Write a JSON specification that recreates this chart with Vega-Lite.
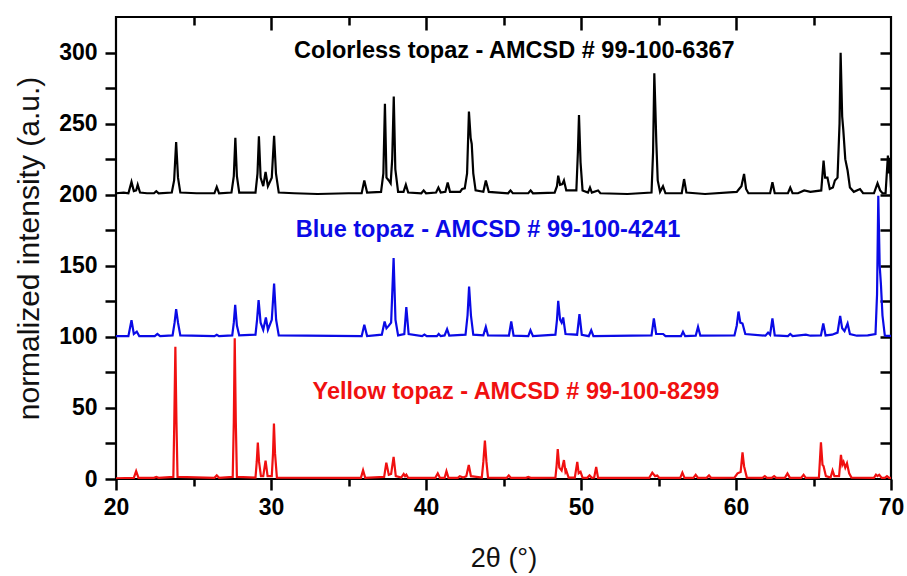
{
  "$schema": "https://vega.github.io/schema/vega-lite/v6.json",
  "width": 775,
  "height": 462,
  "autosize": "none",
  "padding": {"left": 116, "top": 17, "right": 16, "bottom": 97},
  "background": "white",
  "config": {
    "view": {"stroke": "black", "strokeWidth": 2.2},
    "font": "Liberation Sans",
    "axis": {"grid": false, "domain": false, "labelFlush": false, "labelOverlap": false, "tickColor": "black", "tickWidth": 2.5, "labelFont": "Liberation Sans", "labelFontWeight": "bold", "labelFontSize": 23, "labelColor": "black", "titleFont": "Liberation Sans", "titleFontWeight": "normal", "titleColor": "#111"}
  },
  "datasets": {
    "xrd": [
      {"s":"colorless","x":20.0,"y":201},{"s":"colorless","x":20.5,"y":201.5},{"s":"colorless","x":20.8,"y":201},{"s":"colorless","x":21.0,"y":209},{"s":"colorless","x":21.15,"y":202.5},{"s":"colorless","x":21.3,"y":203},{"s":"colorless","x":21.4,"y":207},{"s":"colorless","x":21.55,"y":201.5},{"s":"colorless","x":22.0,"y":201},{"s":"colorless","x":22.45,"y":201},{"s":"colorless","x":22.6,"y":202.5},{"s":"colorless","x":22.75,"y":201},{"s":"colorless","x":23.6,"y":201.5},{"s":"colorless","x":23.75,"y":210},{"s":"colorless","x":23.88,"y":237},{"s":"colorless","x":24.0,"y":212},{"s":"colorless","x":24.15,"y":201.5},{"s":"colorless","x":25.2,"y":201},{"s":"colorless","x":26.35,"y":201},{"s":"colorless","x":26.5,"y":205.5},{"s":"colorless","x":26.65,"y":201},{"s":"colorless","x":27.45,"y":201.5},{"s":"colorless","x":27.6,"y":213},{"s":"colorless","x":27.7,"y":240},{"s":"colorless","x":27.8,"y":213},{"s":"colorless","x":27.95,"y":201.5},{"s":"colorless","x":29.0,"y":201.5},{"s":"colorless","x":29.13,"y":215},{"s":"colorless","x":29.22,"y":241},{"s":"colorless","x":29.33,"y":212},{"s":"colorless","x":29.5,"y":206},{"s":"colorless","x":29.65,"y":216},{"s":"colorless","x":29.8,"y":206},{"s":"colorless","x":30.05,"y":212},{"s":"colorless","x":30.2,"y":241.5},{"s":"colorless","x":30.32,"y":215},{"s":"colorless","x":30.5,"y":201.5},{"s":"colorless","x":31.5,"y":201},{"s":"colorless","x":33.0,"y":200.5},{"s":"colorless","x":35.0,"y":201},{"s":"colorless","x":35.85,"y":201},{"s":"colorless","x":36.02,"y":210},{"s":"colorless","x":36.2,"y":201.5},{"s":"colorless","x":37.1,"y":202},{"s":"colorless","x":37.25,"y":215},{"s":"colorless","x":37.35,"y":264},{"s":"colorless","x":37.45,"y":212},{"s":"colorless","x":37.6,"y":210},{"s":"colorless","x":37.72,"y":208},{"s":"colorless","x":37.82,"y":225},{"s":"colorless","x":37.92,"y":269},{"s":"colorless","x":38.02,"y":218},{"s":"colorless","x":38.2,"y":202},{"s":"colorless","x":38.55,"y":202},{"s":"colorless","x":38.7,"y":207},{"s":"colorless","x":38.85,"y":201.5},{"s":"colorless","x":39.7,"y":201},{"s":"colorless","x":39.85,"y":203},{"s":"colorless","x":40.0,"y":201},{"s":"colorless","x":40.65,"y":201.5},{"s":"colorless","x":40.8,"y":205},{"s":"colorless","x":40.95,"y":201.5},{"s":"colorless","x":41.25,"y":202},{"s":"colorless","x":41.4,"y":208.5},{"s":"colorless","x":41.55,"y":202},{"s":"colorless","x":42.2,"y":202},{"s":"colorless","x":42.33,"y":204},{"s":"colorless","x":42.5,"y":204.5},{"s":"colorless","x":42.65,"y":215},{"s":"colorless","x":42.77,"y":258.5},{"s":"colorless","x":42.88,"y":240},{"s":"colorless","x":42.95,"y":235.7},{"s":"colorless","x":43.05,"y":215},{"s":"colorless","x":43.2,"y":203},{"s":"colorless","x":43.7,"y":202},{"s":"colorless","x":43.86,"y":210},{"s":"colorless","x":44.05,"y":202},{"s":"colorless","x":45.3,"y":201},{"s":"colorless","x":45.45,"y":203},{"s":"colorless","x":45.6,"y":201},{"s":"colorless","x":46.6,"y":201},{"s":"colorless","x":46.75,"y":203},{"s":"colorless","x":46.9,"y":201},{"s":"colorless","x":48.3,"y":201.5},{"s":"colorless","x":48.45,"y":206},{"s":"colorless","x":48.53,"y":213.4},{"s":"colorless","x":48.65,"y":207},{"s":"colorless","x":48.8,"y":207.5},{"s":"colorless","x":48.9,"y":210},{"s":"colorless","x":49.05,"y":203},{"s":"colorless","x":49.7,"y":203},{"s":"colorless","x":49.8,"y":230},{"s":"colorless","x":49.87,"y":256},{"s":"colorless","x":49.97,"y":222.8},{"s":"colorless","x":50.1,"y":203},{"s":"colorless","x":50.45,"y":201.5},{"s":"colorless","x":50.58,"y":205},{"s":"colorless","x":50.7,"y":201.5},{"s":"colorless","x":51.1,"y":203},{"s":"colorless","x":51.25,"y":201},{"s":"colorless","x":53.0,"y":200.5},{"s":"colorless","x":54.55,"y":201.5},{"s":"colorless","x":54.65,"y":230},{"s":"colorless","x":54.73,"y":285.4},{"s":"colorless","x":54.8,"y":260},{"s":"colorless","x":54.86,"y":236.8},{"s":"colorless","x":54.95,"y":210},{"s":"colorless","x":55.1,"y":202},{"s":"colorless","x":55.29,"y":206},{"s":"colorless","x":55.45,"y":201},{"s":"colorless","x":56.5,"y":201},{"s":"colorless","x":56.65,"y":211},{"s":"colorless","x":56.8,"y":201.5},{"s":"colorless","x":58.0,"y":200.5},{"s":"colorless","x":60.05,"y":202},{"s":"colorless","x":60.2,"y":204},{"s":"colorless","x":60.35,"y":206},{"s":"colorless","x":60.52,"y":214.6},{"s":"colorless","x":60.65,"y":204},{"s":"colorless","x":60.8,"y":201},{"s":"colorless","x":62.2,"y":201},{"s":"colorless","x":62.35,"y":208.7},{"s":"colorless","x":62.5,"y":201},{"s":"colorless","x":63.35,"y":201},{"s":"colorless","x":63.5,"y":205},{"s":"colorless","x":63.65,"y":201},{"s":"colorless","x":64.0,"y":201},{"s":"colorless","x":64.4,"y":203},{"s":"colorless","x":64.8,"y":202},{"s":"colorless","x":65.5,"y":203},{"s":"colorless","x":65.65,"y":224},{"s":"colorless","x":65.75,"y":212},{"s":"colorless","x":65.9,"y":212},{"s":"colorless","x":66.05,"y":204},{"s":"colorless","x":66.25,"y":205},{"s":"colorless","x":66.38,"y":210},{"s":"colorless","x":66.55,"y":212},{"s":"colorless","x":66.68,"y":250},{"s":"colorless","x":66.75,"y":299.8},{"s":"colorless","x":66.85,"y":255},{"s":"colorless","x":66.92,"y":246},{"s":"colorless","x":67.05,"y":225},{"s":"colorless","x":67.2,"y":217},{"s":"colorless","x":67.35,"y":205},{"s":"colorless","x":67.6,"y":202},{"s":"colorless","x":68.0,"y":204},{"s":"colorless","x":68.2,"y":201},{"s":"colorless","x":68.9,"y":201},{"s":"colorless","x":69.13,"y":208},{"s":"colorless","x":69.3,"y":203},{"s":"colorless","x":69.45,"y":201},{"s":"colorless","x":69.65,"y":201},{"s":"colorless","x":69.8,"y":227.5},{"s":"colorless","x":69.85,"y":215},{"s":"colorless","x":69.9,"y":226},{"s":"colorless","x":70.0,"y":205},

      {"s":"blue","x":20.0,"y":100.5},{"s":"blue","x":20.8,"y":100.5},{"s":"blue","x":21.0,"y":111.7},{"s":"blue","x":21.15,"y":102},{"s":"blue","x":21.34,"y":103.7},{"s":"blue","x":21.5,"y":100.5},{"s":"blue","x":22.5,"y":100.5},{"s":"blue","x":22.67,"y":102},{"s":"blue","x":22.85,"y":100.5},{"s":"blue","x":23.65,"y":101},{"s":"blue","x":23.78,"y":110},{"s":"blue","x":23.88,"y":119.5},{"s":"blue","x":24.0,"y":110},{"s":"blue","x":24.15,"y":101},{"s":"blue","x":26.35,"y":100.5},{"s":"blue","x":26.5,"y":101.5},{"s":"blue","x":26.65,"y":100.5},{"s":"blue","x":27.5,"y":101},{"s":"blue","x":27.6,"y":110},{"s":"blue","x":27.69,"y":122.5},{"s":"blue","x":27.8,"y":108},{"s":"blue","x":27.95,"y":101},{"s":"blue","x":29.0,"y":101.5},{"s":"blue","x":29.1,"y":112},{"s":"blue","x":29.2,"y":125.8},{"s":"blue","x":29.33,"y":110},{"s":"blue","x":29.5,"y":105},{"s":"blue","x":29.67,"y":113.6},{"s":"blue","x":29.8,"y":105},{"s":"blue","x":30.05,"y":112},{"s":"blue","x":30.2,"y":137.5},{"s":"blue","x":30.33,"y":112},{"s":"blue","x":30.5,"y":101},{"s":"blue","x":35.85,"y":100.5},{"s":"blue","x":36.02,"y":108.5},{"s":"blue","x":36.2,"y":100.5},{"s":"blue","x":37.15,"y":101.5},{"s":"blue","x":37.33,"y":110.8},{"s":"blue","x":37.45,"y":106},{"s":"blue","x":37.59,"y":107.7},{"s":"blue","x":37.75,"y":110},{"s":"blue","x":37.91,"y":155.4},{"s":"blue","x":38.03,"y":112},{"s":"blue","x":38.2,"y":101},{"s":"blue","x":38.6,"y":102},{"s":"blue","x":38.73,"y":121},{"s":"blue","x":38.88,"y":102},{"s":"blue","x":39.75,"y":100.5},{"s":"blue","x":39.9,"y":101.6},{"s":"blue","x":40.05,"y":100.5},{"s":"blue","x":40.7,"y":100.5},{"s":"blue","x":40.82,"y":102},{"s":"blue","x":40.95,"y":100.5},{"s":"blue","x":41.2,"y":101},{"s":"blue","x":41.36,"y":105.4},{"s":"blue","x":41.5,"y":100.8},{"s":"blue","x":42.55,"y":101.5},{"s":"blue","x":42.68,"y":115},{"s":"blue","x":42.78,"y":135.4},{"s":"blue","x":42.9,"y":115},{"s":"blue","x":43.05,"y":101.5},{"s":"blue","x":43.7,"y":101},{"s":"blue","x":43.86,"y":107},{"s":"blue","x":44.0,"y":101},{"s":"blue","x":45.35,"y":100.8},{"s":"blue","x":45.5,"y":110.8},{"s":"blue","x":45.65,"y":100.8},{"s":"blue","x":46.6,"y":100.5},{"s":"blue","x":46.74,"y":104.7},{"s":"blue","x":46.9,"y":100.5},{"s":"blue","x":48.35,"y":101.5},{"s":"blue","x":48.45,"y":112},{"s":"blue","x":48.53,"y":125.4},{"s":"blue","x":48.65,"y":112},{"s":"blue","x":48.75,"y":110},{"s":"blue","x":48.85,"y":113.6},{"s":"blue","x":49.0,"y":102},{"s":"blue","x":49.75,"y":101.5},{"s":"blue","x":49.9,"y":116},{"s":"blue","x":50.05,"y":101.5},{"s":"blue","x":50.5,"y":100.5},{"s":"blue","x":50.66,"y":104.7},{"s":"blue","x":50.8,"y":100.5},{"s":"blue","x":54.55,"y":101},{"s":"blue","x":54.7,"y":113},{"s":"blue","x":54.85,"y":102},{"s":"blue","x":55.3,"y":102},{"s":"blue","x":55.45,"y":100.5},{"s":"blue","x":56.45,"y":100.5},{"s":"blue","x":56.58,"y":103.5},{"s":"blue","x":56.72,"y":100.5},{"s":"blue","x":57.4,"y":100.8},{"s":"blue","x":57.55,"y":107},{"s":"blue","x":57.7,"y":100.8},{"s":"blue","x":59.9,"y":101},{"s":"blue","x":60.05,"y":108},{"s":"blue","x":60.16,"y":117.8},{"s":"blue","x":60.28,"y":110},{"s":"blue","x":60.42,"y":109.4},{"s":"blue","x":60.6,"y":102},{"s":"blue","x":61.9,"y":100.8},{"s":"blue","x":62.07,"y":103},{"s":"blue","x":62.2,"y":101.5},{"s":"blue","x":62.35,"y":113},{"s":"blue","x":62.5,"y":101},{"s":"blue","x":63.35,"y":100.5},{"s":"blue","x":63.5,"y":102},{"s":"blue","x":63.65,"y":100.5},{"s":"blue","x":64.51,"y":101.5},{"s":"blue","x":64.8,"y":100.8},{"s":"blue","x":65.48,"y":101},{"s":"blue","x":65.63,"y":109.4},{"s":"blue","x":65.78,"y":101},{"s":"blue","x":66.2,"y":101.5},{"s":"blue","x":66.55,"y":103},{"s":"blue","x":66.72,"y":114.8},{"s":"blue","x":66.85,"y":106},{"s":"blue","x":67.0,"y":104},{"s":"blue","x":67.2,"y":109.4},{"s":"blue","x":67.35,"y":102},{"s":"blue","x":67.8,"y":100.8},{"s":"blue","x":68.5,"y":101},{"s":"blue","x":69.0,"y":102},{"s":"blue","x":69.1,"y":130},{"s":"blue","x":69.18,"y":199.3},{"s":"blue","x":69.27,"y":150},{"s":"blue","x":69.35,"y":137},{"s":"blue","x":69.45,"y":115},{"s":"blue","x":69.6,"y":101},{"s":"blue","x":69.68,"y":100.7},{"s":"blue","x":70.0,"y":100.7},

      {"s":"yellow","x":20.0,"y":0.5},{"s":"yellow","x":21.15,"y":0.8},{"s":"yellow","x":21.3,"y":5.6},{"s":"yellow","x":21.45,"y":0.8},{"s":"yellow","x":22.45,"y":0.8},{"s":"yellow","x":22.6,"y":1.5},{"s":"yellow","x":22.75,"y":0.8},{"s":"yellow","x":23.7,"y":1.5},{"s":"yellow","x":23.76,"y":40},{"s":"yellow","x":23.83,"y":93},{"s":"yellow","x":23.9,"y":40},{"s":"yellow","x":23.97,"y":1.5},{"s":"yellow","x":26.35,"y":0.8},{"s":"yellow","x":26.5,"y":2.5},{"s":"yellow","x":26.65,"y":0.8},{"s":"yellow","x":27.53,"y":1.5},{"s":"yellow","x":27.6,"y":40},{"s":"yellow","x":27.66,"y":99},{"s":"yellow","x":27.73,"y":40},{"s":"yellow","x":27.8,"y":1.5},{"s":"yellow","x":29.0,"y":1},{"s":"yellow","x":29.08,"y":12},{"s":"yellow","x":29.15,"y":25.6},{"s":"yellow","x":29.23,"y":12},{"s":"yellow","x":29.35,"y":2},{"s":"yellow","x":29.5,"y":2},{"s":"yellow","x":29.65,"y":12.9},{"s":"yellow","x":29.78,"y":2},{"s":"yellow","x":30.05,"y":2},{"s":"yellow","x":30.13,"y":18},{"s":"yellow","x":30.19,"y":39},{"s":"yellow","x":30.26,"y":18},{"s":"yellow","x":30.38,"y":1},{"s":"yellow","x":35.8,"y":0.8},{"s":"yellow","x":35.94,"y":6.1},{"s":"yellow","x":36.08,"y":0.8},{"s":"yellow","x":37.3,"y":1.5},{"s":"yellow","x":37.44,"y":11.5},{"s":"yellow","x":37.6,"y":3},{"s":"yellow","x":37.75,"y":3.5},{"s":"yellow","x":37.91,"y":15.5},{"s":"yellow","x":38.05,"y":2},{"s":"yellow","x":38.4,"y":1},{"s":"yellow","x":38.56,"y":3.5},{"s":"yellow","x":38.65,"y":2},{"s":"yellow","x":38.73,"y":3},{"s":"yellow","x":38.85,"y":0.8},{"s":"yellow","x":40.6,"y":0.8},{"s":"yellow","x":40.76,"y":4},{"s":"yellow","x":40.9,"y":0.8},{"s":"yellow","x":41.2,"y":0.8},{"s":"yellow","x":41.32,"y":5.5},{"s":"yellow","x":41.45,"y":0.8},{"s":"yellow","x":42.05,"y":0.8},{"s":"yellow","x":42.18,"y":2},{"s":"yellow","x":42.4,"y":1},{"s":"yellow","x":42.6,"y":2},{"s":"yellow","x":42.76,"y":9.8},{"s":"yellow","x":42.9,"y":2},{"s":"yellow","x":43.6,"y":1},{"s":"yellow","x":43.7,"y":12},{"s":"yellow","x":43.8,"y":27},{"s":"yellow","x":43.9,"y":12},{"s":"yellow","x":44.0,"y":1},{"s":"yellow","x":45.2,"y":0.8},{"s":"yellow","x":45.34,"y":2.5},{"s":"yellow","x":45.48,"y":0.8},{"s":"yellow","x":46.45,"y":0.8},{"s":"yellow","x":46.6,"y":1.5},{"s":"yellow","x":46.75,"y":0.8},{"s":"yellow","x":48.35,"y":1},{"s":"yellow","x":48.43,"y":10},{"s":"yellow","x":48.5,"y":21},{"s":"yellow","x":48.6,"y":8},{"s":"yellow","x":48.75,"y":6},{"s":"yellow","x":48.9,"y":13.3},{"s":"yellow","x":49.0,"y":5},{"s":"yellow","x":49.05,"y":6},{"s":"yellow","x":49.2,"y":1},{"s":"yellow","x":49.6,"y":1},{"s":"yellow","x":49.76,"y":12},{"s":"yellow","x":49.85,"y":4},{"s":"yellow","x":49.97,"y":5},{"s":"yellow","x":50.1,"y":1},{"s":"yellow","x":50.4,"y":0.8},{"s":"yellow","x":50.55,"y":2.5},{"s":"yellow","x":50.7,"y":0.8},{"s":"yellow","x":50.85,"y":1},{"s":"yellow","x":50.98,"y":8.4},{"s":"yellow","x":51.1,"y":0.8},{"s":"yellow","x":54.4,"y":0.8},{"s":"yellow","x":54.6,"y":4.5},{"s":"yellow","x":54.78,"y":2},{"s":"yellow","x":54.92,"y":2.5},{"s":"yellow","x":55.05,"y":0.8},{"s":"yellow","x":56.4,"y":0.8},{"s":"yellow","x":56.54,"y":4.5},{"s":"yellow","x":56.68,"y":0.8},{"s":"yellow","x":57.25,"y":0.8},{"s":"yellow","x":57.4,"y":3},{"s":"yellow","x":57.55,"y":0.8},{"s":"yellow","x":58.1,"y":0.8},{"s":"yellow","x":58.26,"y":2.5},{"s":"yellow","x":58.4,"y":0.8},{"s":"yellow","x":59.9,"y":1},{"s":"yellow","x":60.1,"y":4},{"s":"yellow","x":60.3,"y":5},{"s":"yellow","x":60.42,"y":18.7},{"s":"yellow","x":60.52,"y":9},{"s":"yellow","x":60.7,"y":1},{"s":"yellow","x":61.7,"y":0.8},{"s":"yellow","x":61.86,"y":2},{"s":"yellow","x":62.0,"y":0.8},{"s":"yellow","x":62.3,"y":0.8},{"s":"yellow","x":62.46,"y":2},{"s":"yellow","x":62.6,"y":0.8},{"s":"yellow","x":63.15,"y":0.8},{"s":"yellow","x":63.32,"y":3.9},{"s":"yellow","x":63.48,"y":0.8},{"s":"yellow","x":64.2,"y":0.8},{"s":"yellow","x":64.36,"y":3},{"s":"yellow","x":64.5,"y":0.8},{"s":"yellow","x":65.35,"y":1},{"s":"yellow","x":65.48,"y":25.8},{"s":"yellow","x":65.58,"y":10},{"s":"yellow","x":65.65,"y":9},{"s":"yellow","x":65.8,"y":2},{"s":"yellow","x":66.1,"y":1},{"s":"yellow","x":66.23,"y":6},{"s":"yellow","x":66.35,"y":2},{"s":"yellow","x":66.65,"y":2},{"s":"yellow","x":66.77,"y":17},{"s":"yellow","x":66.86,"y":10},{"s":"yellow","x":66.94,"y":12},{"s":"yellow","x":67.05,"y":8},{"s":"yellow","x":67.16,"y":11},{"s":"yellow","x":67.3,"y":4},{"s":"yellow","x":67.45,"y":1},{"s":"yellow","x":68.9,"y":0.8},{"s":"yellow","x":69.03,"y":3},{"s":"yellow","x":69.13,"y":2},{"s":"yellow","x":69.24,"y":3},{"s":"yellow","x":69.4,"y":0.8},{"s":"yellow","x":69.6,"y":0.8},{"s":"yellow","x":69.74,"y":2},{"s":"yellow","x":69.88,"y":0.8},{"s":"yellow","x":70.0,"y":0.8}
    ],
    "labels": [
      {"s":"colorless","x":45.7,"y":301,"t":"Colorless topaz - AMCSD # 99-100-6367"},
      {"s":"blue","x":44.0,"y":175.5,"t":"Blue topaz - AMCSD # 99-100-4241"},
      {"s":"yellow","x":45.8,"y":61,"t":"Yellow  topaz - AMCSD # 99-100-8299"}
    ]
  },
  "layer": [
    {
      "data": {"name": "xrd"},
      "mark": {"type": "line", "strokeWidth": 2.2, "clip": true},
      "encoding": {
        "x": {"field": "x", "type": "quantitative", "scale": {"domain": [20, 70], "nice": false, "zero": false},
              "axis": {"orient": "bottom", "values": [20, 30, 40, 50, 60, 70], "tickSize": 11, "labelPadding": 6, "title": "2θ (°)", "titleFontSize": 27, "titlePadding": 26}},
        "y": {"field": "y", "type": "quantitative", "scale": {"domain": [0, 325], "nice": false, "zero": false},
              "axis": {"orient": "left", "values": [0, 50, 100, 150, 200, 250, 300], "tickSize": 11, "labelPadding": 8, "title": "normalized intensity (a.u.)", "titleFontSize": 30, "titlePadding": 14}},
        "color": {"field": "s", "type": "nominal", "scale": {"domain": ["colorless", "blue", "yellow"], "range": ["#000000", "#0a0ae6", "#f01010"]}, "legend": null}
      }
    },
    {
      "data": {"name": "labels"},
      "mark": {"type": "text", "font": "Liberation Sans", "fontWeight": "bold", "fontSize": 23.5, "align": "center", "baseline": "middle"},
      "encoding": {
        "x": {"field": "x", "type": "quantitative", "axis": {"orient": "bottom", "values": [25, 35, 45, 55, 65], "tickSize": 7, "labels": false, "title": null}},
        "y": {"field": "y", "type": "quantitative", "axis": {"orient": "left", "values": [25, 75, 125, 175, 225, 275], "tickSize": 11, "labels": false, "title": null}},
        "text": {"field": "t", "type": "nominal"},
        "color": {"field": "s", "type": "nominal", "legend": null}
      }
    },
    {
      "data": {"name": "labels"},
      "mark": {"type": "text", "opacity": 0},
      "encoding": {
        "x": {"field": "x", "type": "quantitative", "axis": {"orient": "bottom", "offset": -462, "values": [25, 35, 45, 55, 65], "tickSize": 8, "labels": false, "title": null}},
        "y": {"field": "y", "type": "quantitative", "axis": {"orient": "left", "offset": -775, "values": [25, 50, 75, 100, 125, 150, 175, 200, 225, 250, 275, 300], "tickSize": 11, "labels": false, "title": null}},
        "text": {"field": "t", "type": "nominal"}
      }
    },
    {
      "data": {"name": "labels"},
      "mark": {"type": "text", "opacity": 0},
      "encoding": {
        "x": {"field": "x", "type": "quantitative", "axis": {"orient": "bottom", "offset": -462, "values": [30, 40, 50, 60], "tickSize": 13, "labels": false, "title": null}},
        "y": {"field": "y", "type": "quantitative", "axis": null},
        "text": {"field": "t", "type": "nominal"}
      }
    }
  ],
  "resolve": {"axis": {"x": "independent", "y": "independent"}}
}
